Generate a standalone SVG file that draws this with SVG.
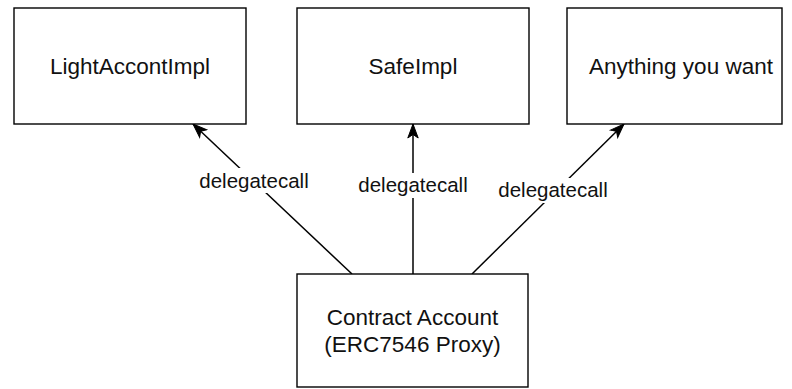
<svg xmlns="http://www.w3.org/2000/svg" width="792" height="389" viewBox="0 0 792 389">
  <style>
    .box { fill: #ffffff; stroke: #000000; stroke-width: 1.4; }
    .ntext { font-family: "Liberation Sans", Arial, Helvetica, sans-serif; font-size: 22.5px; fill: #111111; text-anchor: middle; }
    .edge { stroke: #000000; stroke-width: 1.5; fill: none; marker-end: url(#arrow); }
    .lbg { fill: #ffffff; stroke: none; }
    .ltext { font-family: "Liberation Sans", Arial, Helvetica, sans-serif; font-size: 20.5px; fill: #111111; text-anchor: middle; }
  </style>
  <defs>
    <marker id="arrow" markerUnits="userSpaceOnUse" markerWidth="16" markerHeight="14" viewBox="0 0 16 14" refX="15" refY="7" orient="auto">
      <path d="M1,1.8 L15,7 L1,12.2 L4.5,7 Z" fill="#000000" stroke="#000000" stroke-width="1"/>
    </marker>
  </defs>
  <rect width="792" height="389" fill="#ffffff"/>

  <g id="connectors">
    <line class="edge" x1="352" y1="274" x2="193" y2="124"/>
    <line class="edge" x1="413" y1="274" x2="413" y2="124"/>
    <line class="edge" x1="472" y1="274" x2="624" y2="124"/>
    <rect class="lbg" x="197" y="168" width="115" height="25"/>
    <text class="ltext" x="254" y="188">delegatecall</text>
    <rect class="lbg" x="356" y="173" width="115" height="25"/>
    <text class="ltext" x="413" y="192">delegatecall</text>
    <rect class="lbg" x="496" y="178" width="115" height="25"/>
    <text class="ltext" x="553" y="197">delegatecall</text>
  </g>

  <g id="node-light">
    <rect class="box" x="14" y="8" width="232" height="116"/>
    <text class="ntext" x="130" y="74">LightAccontImpl</text>
  </g>
  <g id="node-safe">
    <rect class="box" x="297" y="8" width="232" height="116"/>
    <text class="ntext" x="413" y="74">SafeImpl</text>
  </g>
  <g id="node-anything">
    <rect class="box" x="567" y="8" width="215" height="116"/>
    <text class="ntext" x="681" y="74">Anything you want</text>
  </g>
  <g id="node-proxy">
    <rect class="box" x="297" y="274" width="231" height="113"/>
    <text class="ntext" x="412.5" y="325">Contract Account</text>
    <text class="ntext" x="412.5" y="352">(ERC7546 Proxy)</text>
  </g>
</svg>
